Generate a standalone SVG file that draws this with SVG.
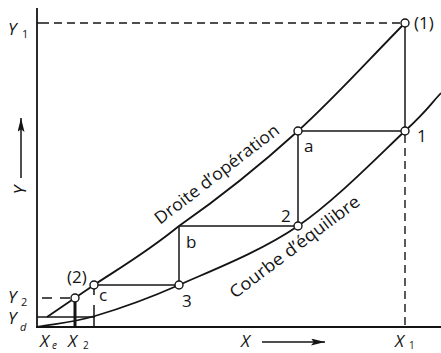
<svg xmlns="http://www.w3.org/2000/svg" width="441" height="353" viewBox="0 0 441 353">
<style>
.ln{stroke:#141414;stroke-width:1.5;fill:none;stroke-linecap:butt}
.crv{stroke:#141414;stroke-width:1.8;fill:none}
.ax{stroke:#141414;stroke-width:1.8;fill:none}
.ds{stroke:#141414;stroke-width:1.4;fill:none;stroke-dasharray:8 5}
.pt{fill:#fff;stroke:#141414;stroke-width:1.4}
.t{font-family:"Open Sans","Liberation Sans",sans-serif;font-size:17px;fill:#141414}
.v{font-family:"Open Sans","Liberation Sans",sans-serif;font-size:17px;font-style:italic;fill:#141414}
.s{font-family:"Open Sans","Liberation Sans",sans-serif;font-size:11px;fill:#141414}
.si{font-family:"Open Sans","Liberation Sans",sans-serif;font-size:11px;font-style:italic;fill:#141414}
</style>
<defs>
<marker id="ah" viewBox="0 0 10 10" refX="10" refY="5" markerWidth="14" markerHeight="7" markerUnits="userSpaceOnUse" orient="auto" preserveAspectRatio="none">
<path d="M0,0 L10,5 L0,10 L2,5 z" fill="#141414"/>
</marker>
</defs>

<g id="axes">
<line class="ax" x1="37" y1="8" x2="37" y2="328"/>
<line class="ax" x1="36" y1="327" x2="441" y2="327"/>
<text class="v" x="8" y="35">Y</text><text class="s" x="22" y="38">1</text>
<text class="v" x="8" y="303">Y</text><text class="s" x="21" y="306">2</text>
<text class="v" x="8" y="324">Y</text><text class="si" x="20" y="331">d</text>
<text class="v" x="40" y="347">X</text><text class="si" x="52" y="349" style="font-size:10px">e</text>
<text class="v" x="68" y="347">X</text><text class="s" x="83" y="349" style="font-size:10px">2</text>
<text class="v" x="395" y="347">X</text><text class="s" x="409" y="349" style="font-size:10px">1</text>
<text class="v" transform="translate(26,190) rotate(-90)" text-anchor="middle">Y</text>
<line class="ln" x1="21" y1="178" x2="21" y2="118" marker-end="url(#ah)"/>
<text class="v" x="241" y="347">X</text>
<line class="ln" x1="262" y1="342" x2="325" y2="342" marker-end="url(#ah)"/>
</g>

<g id="curves">
<path id="op" class="crv" d="M47,317 C62.67,306.33 72,299.83 94,285 C116,270.17 145,253.67 179,226 C213,202.33 260.33,165.17 298,131 C335.67,96.83 369.33,59 405,23"/>
<path id="eq" class="crv" d="M37,327 C56.33,323.33 71.33,323 95,316 C118.67,309 145.17,300 179,285 C212.83,270 260.33,251.67 298,226 C335.67,200.33 381.17,153.17 405,131 C428.83,108.83 429,105.67 441,93"/>
<text class="t" transform="translate(160,225) rotate(-37.5)" textLength="152" lengthAdjust="spacingAndGlyphs">Droite d’opération</text>
<text class="t" transform="translate(235,299) rotate(-37)" textLength="158" lengthAdjust="spacingAndGlyphs">Courbe d’équilibre</text>
</g>

<g id="connectors">
<line class="ds" x1="41" y1="23" x2="401" y2="23"/>
<line class="ln" x1="37" y1="23" x2="41" y2="23"/>
<line class="ln" x1="405" y1="27" x2="405" y2="127"/>
<line class="ds" x1="405" y1="135" x2="405" y2="327"/>
<line class="ln" x1="302" y1="131" x2="401" y2="131"/>
<line class="ln" x1="298" y1="135" x2="298" y2="222"/>
<line class="ln" x1="179" y1="226" x2="294" y2="226"/>
<line class="ln" x1="179" y1="226" x2="179" y2="281"/>
<line class="ln" x1="98" y1="285" x2="175" y2="285"/>
<line class="ln" x1="94" y1="289" x2="94" y2="295"/>
<line class="ln" x1="94" y1="305" x2="94" y2="327"/>
<line class="ds" x1="42" y1="298" x2="71" y2="298" style="stroke-dasharray:10 8"/>
<line class="ln" x1="37" y1="317" x2="95" y2="317"/>
<line class="ln" x1="75" y1="302" x2="75" y2="327" style="stroke-width:3"/>
</g>

<g id="p1top"><circle class="pt" cx="405" cy="23" r="4"/><text class="t" x="414" y="29">(1)</text></g>
<g id="p1"><circle class="pt" cx="405" cy="131" r="4"/><text class="t" x="417" y="142">1</text></g>
<g id="pa"><circle class="pt" cx="298" cy="131" r="4"/><text class="t" x="304" y="152">a</text></g>
<g id="p2"><circle class="pt" cx="298" cy="226" r="4"/><text class="t" x="281" y="222">2</text></g>
<g id="pb"><text class="t" x="186" y="248">b</text></g>
<g id="p3"><circle class="pt" cx="179" cy="285" r="4"/><text class="t" x="182" y="307">3</text></g>
<g id="pc"><circle class="pt" cx="94" cy="285" r="4"/><text class="t" x="67" y="283">(2)</text><text class="t" x="99" y="301">c</text></g>
<g id="px2"><circle class="pt" cx="75" cy="298" r="4"/></g>
</svg>
